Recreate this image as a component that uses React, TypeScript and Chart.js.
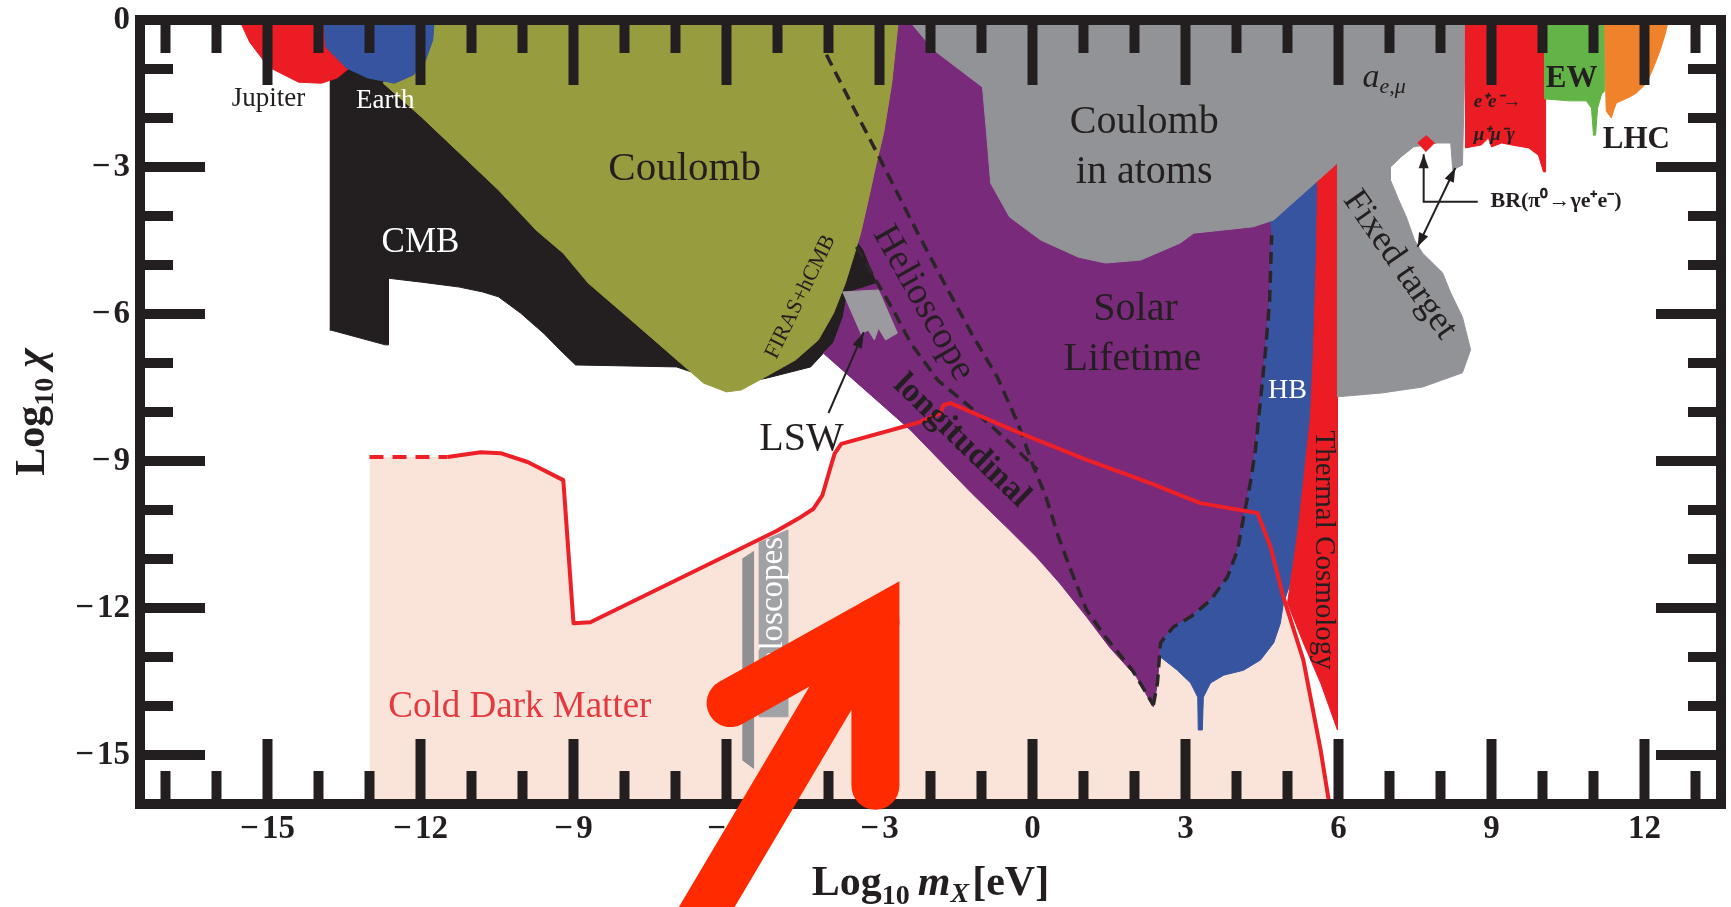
import React, { useEffect, useRef } from 'react';
import { Chart, registerables } from 'chart.js';

Chart.register(...registerables);

type Pt = [number, number];

// ---------- axes ----------
const xRange: Pt = [-17.5, 13.5];
const yRange: Pt = [-16, 0];
const xMajorTicks = [-15, -12, -9, -6, -3, 0, 3, 6, 9, 12];
const xMinorTicks = [-17, -16, -14, -13, -11, -10, -8, -7, -5, -4, -2, -1, 1, 2, 4, 5, 7, 8, 10, 11, 13];
const yMajorTicks = [0, -3, -6, -9, -12, -15];
const yMinorTicks = [-1, -2, -4, -5, -7, -8, -10, -11, -13, -14];

// ---------- excluded regions (Log10 m[eV], Log10 chi) ----------
const jupiterRegion: Pt[] = [[-15.55, 0], [-15.35, -0.45], [-14.98, -0.96], [-14.39, -1.27], [-13.94, -1.29], [-13.63, -1.18], [-13.3, -0.9], [-13.1, -0.5], [-13.0, 0]];
const earthRegion: Pt[] = [[-13.9, 0], [-13.86, -0.55], [-13.45, -0.98], [-13.04, -1.18], [-12.51, -1.29], [-12.14, -1.12], [-11.9, -0.82], [-11.76, -0.41], [-11.73, 0]];
const cmbRegion: Pt[] = [[-13.78, -1.12], [-13.45, -0.92], [-12.78, -1.12], [-12.0, -1.53], [-4.55, -2.65], [-3.45, -4.49], [-3.31, -4.69], [-3.04, -5.37], [-3.63, -5.57], [-3.71, -6.06], [-3.9, -6.59], [-4.1, -6.8], [-4.35, -7.08], [-4.8, -7.2], [-5.22, -7.31], [-5.92, -7.45], [-6.98, -7.08], [-8.96, -7.04], [-9.2, -6.8], [-9.59, -6.39], [-10.04, -5.98], [-10.47, -5.65], [-10.78, -5.55], [-11.24, -5.45], [-11.98, -5.35], [-12.63, -5.27], [-12.63, -6.63], [-12.69, -6.63], [-13.75, -6.33], [-13.78, -6.33]];
const coulombRegion: Pt[] = [[-12.2, 0], [-12.73, -1.29], [-11.98, -1.98], [-11.24, -2.71], [-10.47, -3.47], [-9.73, -4.29], [-9.2, -4.76], [-8.71, -5.37], [-7.94, -6.06], [-7.2, -6.73], [-6.45, -7.41], [-6.0, -7.59], [-5.71, -7.55], [-5.25, -7.29], [-4.65, -6.94], [-4.2, -6.53], [-3.9, -5.98], [-3.67, -5.37], [-3.53, -4.9], [-3.37, -4.35], [-3.22, -3.67], [-3.08, -3.0], [-2.92, -2.31], [-2.76, -1.29], [-2.63, 0]];
const solarRegion: Pt[] = [[-2.69, 0], [-1.71, 0], [-0.63, -2.04], [1.33, -4.08], [3.29, -3.98], [4.76, -3.88], [4.69, -4.39], [4.65, -5.71], [4.57, -6.73], [4.47, -7.76], [4.37, -8.78], [4.27, -9.45], [4.14, -10.14], [4.02, -10.82], [3.82, -11.37], [3.49, -11.84], [3.1, -12.18], [2.76, -12.39], [2.51, -12.71], [2.45, -13.53], [2.37, -14.02], [2.04, -13.41], [1.51, -12.8], [1.06, -12.18], [0.53, -11.49], [0.08, -10.96], [-0.45, -10.41], [-1.2, -9.65], [-2.39, -8.37], [-4.1, -6.8], [-3.9, -6.59], [-3.71, -6.06], [-3.63, -5.57], [-3.04, -5.37], [-3.31, -4.69], [-3.45, -4.49], [-3.3, -3.0], [-2.9, -1.0]];
const hbRegion: Pt[] = [[4.6, -3.6], [5.75, -2.9], [5.69, -3.27], [5.65, -4.69], [5.59, -6.73], [5.51, -8.1], [5.39, -9.45], [5.25, -10.47], [5.06, -11.49], [4.92, -11.9], [4.86, -12.31], [4.73, -12.71], [4.47, -13.06], [4.14, -13.27], [3.75, -13.37], [3.49, -13.53], [3.35, -13.82], [3.33, -14.49], [3.25, -14.49], [3.24, -13.82], [3.1, -13.53], [2.84, -13.27], [2.51, -13.0], [2.51, -12.71], [2.76, -12.39], [3.1, -12.18], [3.49, -11.84], [3.82, -11.37], [4.02, -10.82], [4.14, -10.14], [4.27, -9.45], [4.37, -8.78], [4.47, -7.76], [4.57, -6.73], [4.65, -5.71], [4.69, -4.39]];
const thermalRegion: Pt[] = [[5.55, -2.9], [5.98, -2.6], [5.98, -14.49], [5.65, -13.53], [5.31, -12.71], [5.0, -11.9], [5.2, -10.47], [5.31, -9.45], [5.45, -8.1], [5.51, -6.73], [5.57, -4.69], [5.59, -3.27]];
const atomsFixedTargetRegion: Pt[] = [[-2.43, 0], [-1.94, -0.61], [-0.98, -1.37], [-0.9, -2.31], [-0.82, -3.33], [-0.45, -4.02], [0.16, -4.49], [0.9, -4.84], [1.43, -4.96], [2.12, -4.9], [2.9, -4.55], [3.16, -4.35], [3.71, -4.29], [4.33, -4.22], [4.73, -4.08], [5.98, -2.92], [5.98, -7.69], [6.86, -7.61], [7.65, -7.49], [8.43, -7.2], [8.59, -6.73], [8.43, -6.06], [8.2, -5.57], [8.04, -5.16], [7.65, -4.76], [7.49, -4.49], [7.33, -4.02], [7.18, -3.67], [7.02, -3.27], [7.02, -3.0], [7.22, -2.8], [7.47, -2.59], [7.94, -2.51], [8.2, -2.51], [8.24, -3.06], [8.43, -2.96], [8.5, 0]];
const lswRegion: Pt[] = [[-3.73, -5.55], [-3.02, -5.51], [-2.65, -6.39], [-2.88, -6.53], [-3.02, -6.29], [-3.1, -6.53], [-3.22, -6.33], [-3.37, -6.41]];
const haloscopeStripA: Pt[] = [[-5.69, -11.0], [-5.47, -10.85], [-5.47, -15.27], [-5.69, -15.1]];
const haloscopeStripB: Pt[] = [[-5.37, -10.67], [-4.8, -10.41], [-4.8, -14.22], [-5.37, -14.22]];
const eeMuMuRegion: Pt[] = [[8.49, 0], [8.49, -2.61], [8.8, -2.55], [8.94, -2.41], [9.0, -2.59], [9.2, -2.51], [9.39, -2.55], [9.73, -2.61], [9.92, -2.76], [10.02, -3.1], [10.06, -3.1], [10.06, 0]];
const ewRegion: Pt[] = [[10.04, 0], [10.04, -1.61], [10.53, -1.65], [10.86, -1.65], [10.96, -1.8], [11.0, -2.35], [11.04, -2.35], [11.08, -1.8], [11.16, -1.51], [11.22, -1.45], [11.22, 0]];
const lhcRegion: Pt[] = [[11.22, 0], [11.24, -1.45], [11.25, -1.86], [11.35, -2.0], [11.39, -1.86], [11.45, -1.69], [11.59, -1.63], [11.71, -1.57], [11.84, -1.49], [12.04, -1.29], [12.18, -0.96], [12.31, -0.61], [12.41, -0.27], [12.47, 0]];
const pionDecayRegion: Pt[] = [[7.55, -2.51], [7.72, -2.36], [7.88, -2.51], [7.71, -2.69]];

// ---------- curves ----------
const cdmDashed: Pt[] = [[-13.0, -8.92], [-11.47, -8.92]];
const cdmSolid: Pt[] = [[-11.47, -8.92], [-10.82, -8.82], [-10.43, -8.84], [-9.9, -9.02], [-9.2, -9.39], [-9.0, -12.31], [-8.67, -12.29], [-5.02, -10.43], [-4.6, -10.18], [-4.3, -9.98], [-4.12, -9.7], [-3.98, -9.2], [-3.88, -8.85], [-3.75, -8.65], [-2.25, -8.22], [-1.8, -8.02], [-1.75, -7.86], [-1.61, -7.82], [-0.29, -8.41], [1.0, -8.95], [2.31, -9.45], [3.29, -9.86], [4.41, -10.06], [4.67, -10.76], [4.92, -11.78], [5.31, -13.06], [5.65, -14.9], [5.82, -16.0]];
const helioscopeDashed: Pt[] = [[-4.04, -0.71], [-3.59, -1.63], [-3.08, -2.65], [-2.71, -3.41], [-2.25, -4.35], [-1.73, -5.37], [-1.2, -6.39], [-0.69, -7.29], [-0.29, -8.22], [0.02, -9.12], [0.25, -9.69], [0.51, -10.55], [0.75, -11.22], [1.06, -12.04], [1.43, -12.59], [1.96, -13.27], [2.37, -13.98]];
const solarDashed: Pt[] = [[2.37, -13.98], [2.45, -13.53], [2.51, -12.71], [2.76, -12.39], [3.1, -12.18], [3.49, -11.84], [3.82, -11.37], [4.02, -10.82], [4.14, -10.14], [4.27, -9.45], [4.37, -8.78], [4.47, -7.76], [4.57, -6.73], [4.65, -5.71], [4.69, -4.39]];
const longitudinalDashed: Pt[] = [[-3.45, -4.63], [-3.04, -5.37], [-2.73, -5.92], [-2.39, -6.59], [-1.86, -7.35], [-1.22, -7.9], [-0.57, -8.51], [0.1, -9.18]];

// annotation pointer lines (data coords)
const lswPointer: Pt[] = [[-4.0, -8.02], [-3.31, -6.37]];
const brElbow: Pt[] = [[8.73, -3.71], [7.67, -3.71], [7.67, -2.74]];
const brDiagonal: Pt[] = [[8.29, -3.02], [7.55, -4.63]];
// big red highlight arrow (data coords)
const highlightHead: Pt[] = [[-5.92, -13.94], [-3.08, -12.29], [-3.08, -15.63]];
const highlightShaft: Pt[] = [[-3.08, -12.29], [-6.71, -18.67]];

// ---------- styles ----------
const SERIF = '"Liberation Serif", "Times New Roman", Times, serif';
const INK = '#231f20';
const C = {
  pink: '#fae4d9', red: '#ec1c24', black: '#231f20', olive: '#979d3f', purple: '#7a2a7a',
  gray: '#929397', blue: '#3654a0', ew: '#62b447', lhc: '#f0822c', lsw: '#9b9b9f',
  haloA: '#8f9094', haloB: '#a1a2a6', cdmLine: '#ed2027', cdmText: '#e4393e', dash: '#2a2627', arrow: '#ff2a00',
};

type Part = { t: string; size: number; style?: string; dy?: number; gap?: number };
type Label = { parts: Part[]; x: number; y: number; color?: string; align?: 'left' | 'center' | 'right'; rotate?: number; baseline?: CanvasTextBaseline };

const labels: Label[] = [
  { parts: [{ t: 'Jupiter', size: 27 }], x: -14.98, y: -1.75 },
  { parts: [{ t: 'Earth', size: 27 }], x: -12.69, y: -1.8, color: '#ffffff' },
  { parts: [{ t: 'CMB', size: 35 }], x: -12.0, y: -4.73, color: '#ffffff' },
  { parts: [{ t: 'Coulomb', size: 41 }], x: -6.82, y: -3.27 },
  { parts: [{ t: 'Coulomb', size: 40 }], x: 2.19, y: -2.31 },
  { parts: [{ t: 'in atoms', size: 40 }], x: 2.19, y: -3.33 },
  { parts: [{ t: 'Solar', size: 40 }], x: 2.02, y: -6.12 },
  { parts: [{ t: 'Lifetime', size: 40 }], x: 1.96, y: -7.14 },
  { parts: [{ t: 'LSW', size: 40 }], x: -4.53, y: -8.78 },
  { parts: [{ t: 'HB', size: 28 }], x: 5.0, y: -7.71, color: '#ffffff' },
  { parts: [{ t: 'Cold Dark Matter', size: 37 }], x: -12.63, y: -14.22, color: C.cdmText, align: 'left' },
  { parts: [{ t: 'EW', size: 31, style: 'bold' }], x: 10.57, y: -1.37 },
  { parts: [{ t: 'LHC', size: 31, style: 'bold' }], x: 11.84, y: -2.61 },
  { parts: [{ t: 'a', size: 34, style: 'italic' }, { t: 'e,μ', size: 22, style: 'italic', dy: 6 }], x: 6.47, y: -1.37, align: 'left' },
  { parts: [{ t: 'e⁺e⁻→', size: 19, style: 'italic bold' }], x: 8.65, y: -1.78, align: 'left' },
  { parts: [{ t: 'μ⁺μ⁻γ', size: 19, style: 'italic bold' }], x: 8.65, y: -2.45, align: 'left' },
  { parts: [{ t: 'BR(π⁰→γe⁺e⁻)', size: 22, style: 'bold' }], x: 8.98, y: -3.82, align: 'left' },
  { parts: [{ t: 'FIRAS+hCMB', size: 22 }], x: -4.55, y: -5.65, rotate: -64, baseline: 'middle' },
  { parts: [{ t: 'Helioscope', size: 38 }], x: -2.14, y: -5.78, rotate: 60.7, baseline: 'middle' },
  { parts: [{ t: 'longitudinal', size: 34, style: 'bold' }], x: -1.39, y: -8.59, rotate: 44, baseline: 'middle' },
  { parts: [{ t: 'Fixed target', size: 36 }], x: 7.2, y: -5.0, rotate: 55, baseline: 'middle' },
  { parts: [{ t: 'Thermal Cosmology', size: 29 }], x: 5.71, y: -10.82, rotate: 90, baseline: 'middle' },
  { parts: [{ t: 'Haloscopes', size: 33 }], x: -5.08, y: -10.55, rotate: -90, align: 'right', baseline: 'middle', color: '#ffffff' },
];

const fontOf = (p: Part) => `${p.style ? p.style + ' ' : ''}${p.size}px ${SERIF}`;

function drawParts(ctx: CanvasRenderingContext2D, parts: Part[], x: number, y: number, align: string) {
  const widths = parts.map((p) => { ctx.font = fontOf(p); return ctx.measureText(p.t).width + (p.gap || 0); });
  const total = widths.reduce((a, b) => a + b, 0);
  let cx = align === 'left' ? x : align === 'right' ? x - total : x - total / 2;
  ctx.textAlign = 'left';
  parts.forEach((p, i) => {
    ctx.font = fontOf(p);
    ctx.fillText(p.t, cx, y + (p.dy || 0));
    cx += widths[i];
  });
}

function arrowHead(ctx: CanvasRenderingContext2D, x1: number, y1: number, x2: number, y2: number, len: number, half: number) {
  const a = Math.atan2(y2 - y1, x2 - x1);
  ctx.beginPath();
  ctx.moveTo(x2, y2);
  ctx.lineTo(x2 - len * Math.cos(a) + half * Math.sin(a), y2 - len * Math.sin(a) - half * Math.cos(a));
  ctx.lineTo(x2 - len * Math.cos(a) - half * Math.sin(a), y2 - len * Math.sin(a) + half * Math.cos(a));
  ctx.closePath();
  ctx.fill();
}

// tick label parts: minus sign set slightly apart from the digits, as in the original typesetting
const tickParts = (v: number): Part[] =>
  v < 0
    ? [{ t: '\u2212', size: 33, style: 'bold', gap: 3 }, { t: String(Math.abs(v)), size: 33, style: 'bold' }]
    : [{ t: String(v), size: 33, style: 'bold' }];

const overlayPlugin = {
  id: 'overlay',
  afterDatasetsDraw(chart: any) {
    const { ctx, scales } = chart;
    const px = (v: number) => scales.x.getPixelForValue(v);
    const py = (v: number) => scales.y.getPixelForValue(v);
    ctx.save();
    for (const l of labels) {
      ctx.fillStyle = l.color || INK;
      ctx.textBaseline = l.baseline || 'alphabetic';
      ctx.save();
      ctx.translate(px(l.x), py(l.y));
      if (l.rotate) ctx.rotate((l.rotate * Math.PI) / 180);
      drawParts(ctx, l.parts, 0, 0, l.align || 'center');
      ctx.restore();
    }
    // pointers
    ctx.strokeStyle = INK; ctx.fillStyle = INK; ctx.lineWidth = 2;
    const seg = (pts: Pt[]) => {
      ctx.beginPath();
      pts.forEach(([a, b], i) => (i ? ctx.lineTo(px(a), py(b)) : ctx.moveTo(px(a), py(b))));
      ctx.stroke();
    };
    seg(lswPointer);
    arrowHead(ctx, px(lswPointer[0][0]), py(lswPointer[0][1]), px(lswPointer[1][0]), py(lswPointer[1][1]), 16, 5);
    seg(brElbow);
    arrowHead(ctx, px(brElbow[1][0]), py(brElbow[1][1]), px(brElbow[2][0]), py(brElbow[2][1]), 14, 5);
    seg(brDiagonal);
    arrowHead(ctx, px(brDiagonal[0][0]), py(brDiagonal[0][1]), px(brDiagonal[1][0]), py(brDiagonal[1][1]), 14, 5);
    arrowHead(ctx, px(brDiagonal[1][0]), py(brDiagonal[1][1]), px(brDiagonal[0][0]), py(brDiagonal[0][1]), 14, 5);
    ctx.restore();
  },
  afterDraw(chart: any) {
    const { ctx, chartArea: a, scales } = chart;
    const px = (v: number) => scales.x.getPixelForValue(v);
    const py = (v: number) => scales.y.getPixelForValue(v);
    ctx.save();
    // frame
    ctx.strokeStyle = INK; ctx.lineWidth = 10; ctx.lineJoin = 'miter';
    ctx.strokeRect(a.left, a.top, a.right - a.left, a.bottom - a.top);
    // inward ticks
    ctx.lineWidth = 10; ctx.lineCap = 'butt';
    const tick = (x1: number, y1: number, x2: number, y2: number) => { ctx.beginPath(); ctx.moveTo(x1, y1); ctx.lineTo(x2, y2); ctx.stroke(); };
    const MAJ = 65, MIN = 33;
    [...xMajorTicks, ...xMinorTicks].forEach((v) => {
      const L = xMajorTicks.includes(v) ? MAJ : MIN;
      const x = px(v);
      tick(x, a.bottom, x, a.bottom - L);
      tick(x, a.top, x, a.top + L);
    });
    [...yMajorTicks, ...yMinorTicks].forEach((v) => {
      const L = yMajorTicks.includes(v) ? MAJ : MIN;
      const y = py(v);
      tick(a.left, y, a.left + L, y);
      tick(a.right, y, a.right - L, y);
    });
    // tick labels
    ctx.fillStyle = INK;
    ctx.textBaseline = 'alphabetic';
    xMajorTicks.forEach((v) => drawParts(ctx, tickParts(v), px(v), a.bottom + 34, 'center'));
    ctx.textBaseline = 'middle';
    yMajorTicks.forEach((v) => drawParts(ctx, tickParts(v), a.left - 10, py(v), 'right'));
    // axis titles
    ctx.textBaseline = 'alphabetic';
    drawParts(ctx, [
      { t: 'Log', size: 42, style: 'bold' },
      { t: '10', size: 28, style: 'bold', dy: 9, gap: 8 },
      { t: 'm', size: 42, style: 'italic bold' },
      { t: 'X', size: 28, style: 'italic bold', dy: 7, gap: 3 },
      { t: '[eV]', size: 42, style: 'bold' },
    ], (a.left + a.right) / 2, a.bottom + 91, 'center');
    ctx.save();
    ctx.translate(44, (a.top + a.bottom) / 2);
    ctx.rotate(-Math.PI / 2);
    drawParts(ctx, [
      { t: 'Log', size: 42, style: 'bold' },
      { t: '10', size: 28, style: 'bold', dy: 9, gap: 10 },
      { t: 'χ', size: 42, style: 'italic bold' },
    ], 0, 0, 'center');
    ctx.restore();
    // big red highlight arrow
    ctx.strokeStyle = C.arrow; ctx.lineWidth = 48; ctx.lineCap = 'round'; ctx.lineJoin = 'miter'; ctx.miterLimit = 10;
    ctx.beginPath();
    highlightShaft.forEach(([u, w], i) => (i ? ctx.lineTo(px(u), py(w)) : ctx.moveTo(px(u), py(w))));
    ctx.stroke();
    ctx.beginPath();
    highlightHead.forEach(([u, w], i) => (i ? ctx.lineTo(px(u), py(w)) : ctx.moveTo(px(u), py(w))));
    ctx.stroke();
    ctx.restore();
  },
};

const toXY = (pts: Pt[]) => pts.map(([x, y]) => ({ x, y }));

function regionSet(pts: Pt[], color: string) {
  return { data: toXY(pts), fill: 'shape', backgroundColor: color, borderColor: color, borderWidth: 1, pointRadius: 0, pointHoverRadius: 0, tension: 0 };
}
function curveSet(pts: Pt[], color: string, width: number, dash: number[] = []) {
  return { data: toXY(pts), fill: false, borderColor: color, borderWidth: width, borderDash: dash, borderJoinStyle: 'round', borderCapStyle: 'butt', pointRadius: 0, pointHoverRadius: 0, tension: 0 };
}

export default function App() {
  const ref = useRef<HTMLCanvasElement>(null);
  useEffect(() => {
    const canvas = ref.current;
    if (!canvas) return;
    const cdmAll: Pt[] = [...cdmDashed, ...cdmSolid.slice(1)];
    const bottomToTop: any[] = [
      { data: toXY(cdmAll), fill: 'start', backgroundColor: C.pink, borderColor: 'rgba(0,0,0,0)', borderWidth: 0, pointRadius: 0, tension: 0 },
      regionSet(cmbRegion, C.black),
      regionSet(solarRegion, C.purple),
      regionSet(hbRegion, C.blue),
      regionSet(thermalRegion, C.red),
      regionSet(coulombRegion, C.olive),
      regionSet(atomsFixedTargetRegion, C.gray),
      regionSet(lswRegion, C.lsw),
      regionSet(haloscopeStripA, C.haloA),
      regionSet(haloscopeStripB, C.haloB),
      regionSet(jupiterRegion, C.red),
      regionSet(earthRegion, C.blue),
      regionSet(eeMuMuRegion, C.red),
      regionSet(ewRegion, C.ew),
      regionSet(lhcRegion, C.lhc),
      regionSet(pionDecayRegion, C.red),
      curveSet(helioscopeDashed, C.dash, 3.5, [12, 7]),
      curveSet(solarDashed, C.dash, 3.5, [12, 7]),
      curveSet(longitudinalDashed, C.dash, 3.5, [12, 7]),
      curveSet(cdmDashed, C.cdmLine, 4, [14, 9]),
      curveSet(cdmSolid, C.cdmLine, 4),
    ];
    const datasets = bottomToTop.map((d, i) => ({ ...d, order: -i }));
    const chart = new Chart(canvas, {
      type: 'line',
      data: { datasets },
      options: {
        responsive: false,
        animation: false,
        events: [],
        layout: { padding: { left: 140, right: 10, top: 20, bottom: 103 } },
        scales: {
          x: { type: 'linear', min: xRange[0], max: xRange[1], display: false },
          y: { type: 'linear', min: yRange[0], max: yRange[1], display: false },
        },
        plugins: { legend: { display: false }, tooltip: { enabled: false }, title: { display: false } },
      },
      plugins: [overlayPlugin],
    } as any);
    return () => chart.destroy();
  }, []);
  return (
    <div style={{ position: 'fixed', left: 0, top: 0, width: 1731, height: 907, background: '#ffffff' }}>
      <canvas ref={ref} width={1731} height={907} style={{ display: 'block', width: 1731, height: 907 }} />
    </div>
  );
}
